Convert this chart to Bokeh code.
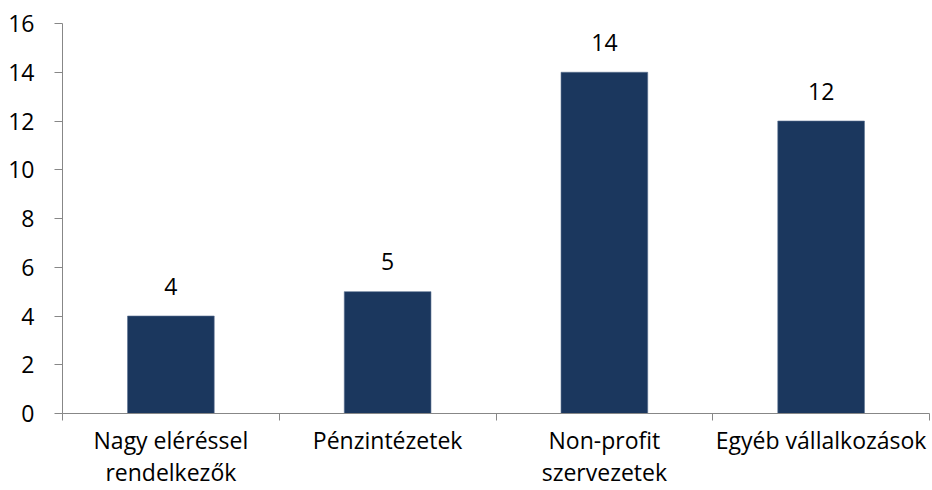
from bokeh.plotting import figure
from bokeh.models import FixedTicker, ColumnDataSource, Range1d
from bokeh.core.properties import value
from bokeh.embed import file_html
from bokeh.resources import INLINE

categories = ["Nagy eléréssel\nrendelkezők", "Pénzintézetek", "Non-profit\nszervezetek", "Egyéb vállalkozások"]
values = [4, 5, 14, 12]
y_ticks = [0, 2, 4, 6, 8, 10, 12, 14, 16]

FONT = "Open Sans"
BAR = "#1B375E"
AXIS = "#878787"

xs = [i + 0.5 for i in range(len(categories))]
src = ColumnDataSource(dict(x=xs, top=values, label=[str(v) for v in values]))

p = figure(width=932, height=490, output_backend="svg", toolbar_location=None,
           x_range=Range1d(0, len(categories)), y_range=Range1d(0, 16),
           min_border_left=62, min_border_right=3, min_border_top=23, min_border_bottom=77)
p.outline_line_color = None
p.xgrid.grid_line_color = None
p.ygrid.grid_line_color = None
p.background_fill_color = "white"
p.border_fill_color = "white"

p.vbar(x="x", top="top", width=0.4, bottom=0, source=src, fill_color=BAR, line_color="#5A7090", line_width=0.6)
p.text(x="x", y="top", text="label", source=src, text_align="center", text_baseline="alphabetic",
       y_offset=-30, text_font=value(FONT), text_font_size="23px", text_color="#000000")

ya = p.yaxis[0]
ya.ticker = FixedTicker(ticks=y_ticks, minor_ticks=[])
ya.axis_line_color = AXIS
ya.major_tick_line_color = AXIS
ya.major_tick_out = 8
ya.major_tick_in = 0
ya.major_label_standoff = 20
ya.major_label_text_font = FONT
ya.major_label_text_font_size = "23px"
ya.major_label_text_color = "#000000"

xa = p.xaxis[0]
xa.ticker = FixedTicker(ticks=xs, minor_ticks=list(range(len(categories) + 1)))
xa.major_label_overrides = {x: c for x, c in zip(xs, categories)}
xa.axis_line_color = AXIS
xa.major_tick_line_color = None
xa.major_tick_out = 0
xa.major_tick_in = 0
xa.minor_tick_line_color = AXIS
xa.minor_tick_out = 7
xa.minor_tick_in = 0
xa.major_label_standoff = 3
xa.major_label_text_line_height = 1.0
xa.major_label_text_font = FONT
xa.major_label_text_font_size = "23px"
xa.major_label_text_color = "#000000"

open("out.html", "w").write(file_html(p, INLINE))
